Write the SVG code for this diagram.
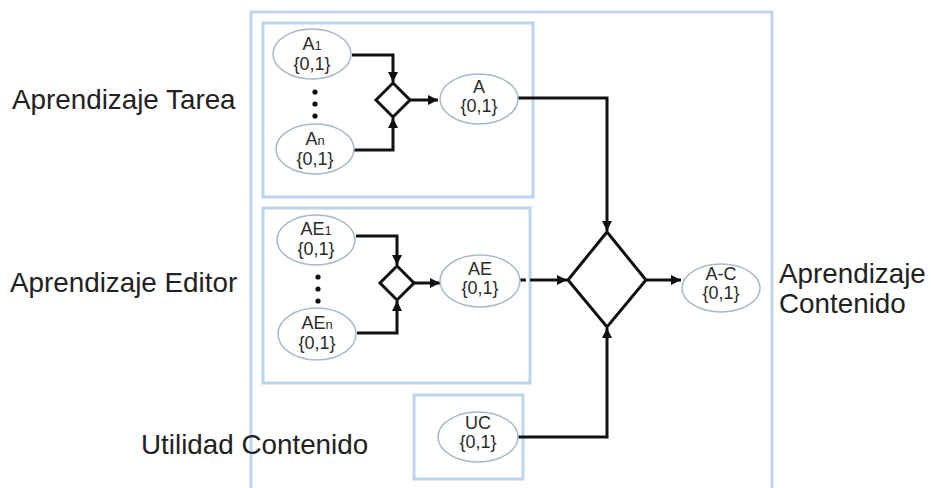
<svg xmlns="http://www.w3.org/2000/svg" width="931" height="488" viewBox="0 0 931 488">
<defs>
<marker id="arr" viewBox="0 0 10 10" refX="10" refY="5" markerWidth="3.4" markerHeight="3.4" orient="auto" markerUnits="strokeWidth">
<path d="M0,0 L10,5 L0,10 z" fill="#111"/>
</marker>
<style>
.box{fill:none;stroke:#bcd5ec;stroke-width:3}
.ell{fill:#fff;stroke:#a9b8c8;stroke-width:1.5}
.et{font-family:"Liberation Sans",Arial,sans-serif;font-size:18px;fill:#2a2a2a;text-anchor:middle}
.sub{font-size:13px}
.lbl{font-family:"Liberation Sans",Arial,sans-serif;font-size:27.8px;fill:#222}
.con{fill:none;stroke:#111;stroke-width:3;marker-end:url(#arr)}
.dia{fill:#fff;stroke:#111;stroke-width:3;stroke-linejoin:miter}
.dot{fill:#111}
</style>
</defs>
<rect width="931" height="488" fill="#fff"/>

<g id="outer-box"><rect class="box" x="251" y="12" width="521" height="490"/></g>
<g id="box-tarea"><rect class="box" x="263" y="23" width="270" height="174"/></g>
<g id="box-editor"><rect class="box" x="263" y="208" width="267" height="175"/></g>
<g id="box-uc"><rect class="box" x="414" y="395" width="109" height="84"/></g>

<g id="labels">
<text class="lbl" x="12" y="109">Aprendizaje Tarea</text>
<text class="lbl" x="10" y="292">Aprendizaje Editor</text>
<text class="lbl" x="141" y="454">Utilidad Contenido</text>
<text class="lbl" x="779" y="283">Aprendizaje</text>
<text class="lbl" x="779" y="313">Contenido</text>
</g>

<g id="connectors">
<path class="con" d="M352,55 H393 V82"/>
<path class="con" d="M354,150 H393 V118"/>
<path class="con" d="M410,100 H438"/>
<path class="con" d="M518,98 H607 V231"/>
<path class="con" d="M356,236 H397 V265"/>
<path class="con" d="M357,333 H397 V301"/>
<path class="con" d="M414,283 H440"/>
<path class="con" d="M520,280 H567" stroke-dasharray="6 4 100"/>
<path class="con" d="M646,280 H681"/>
<path class="con" d="M518,437 H607 V328"/>
</g>

<g id="diamond-tarea"><polygon class="dia" points="393,83 410,100 393,117 376,100"/></g>
<g id="diamond-editor"><polygon class="dia" points="397,266 414,283 397,300 380,283"/></g>
<g id="diamond-main"><polygon class="dia" points="607,232 646,280 607,327 568,280"/></g>

<g id="dots-tarea">
<circle class="dot" cx="315" cy="92" r="2.6"/>
<circle class="dot" cx="315" cy="104" r="2.6"/>
<circle class="dot" cx="315" cy="116" r="2.6"/>
</g>
<g id="dots-editor">
<circle class="dot" cx="318" cy="277" r="2.6"/>
<circle class="dot" cx="318" cy="289" r="2.6"/>
<circle class="dot" cx="318" cy="301" r="2.6"/>
</g>

<g id="node-A1">
<ellipse class="ell" cx="312" cy="54" rx="39" ry="25"/>
<text class="et" x="312" y="50">A<tspan class="sub">1</tspan></text>
<text class="et" x="312" y="70">{0,1}</text>
</g>
<g id="node-An">
<ellipse class="ell" cx="315" cy="149" rx="39" ry="25"/>
<text class="et" x="315" y="145">A<tspan class="sub">n</tspan></text>
<text class="et" x="315" y="165">{0,1}</text>
</g>
<g id="node-A">
<ellipse class="ell" cx="479" cy="99" rx="39" ry="25"/>
<text class="et" x="479" y="93">A</text>
<text class="et" x="479" y="112">{0,1}</text>
</g>
<g id="node-AE1">
<ellipse class="ell" cx="316" cy="240" rx="39" ry="25"/>
<text class="et" x="316" y="235">AE<tspan class="sub">1</tspan></text>
<text class="et" x="316" y="255">{0,1}</text>
</g>
<g id="node-AEn">
<ellipse class="ell" cx="317" cy="334" rx="39" ry="26"/>
<text class="et" x="317" y="329">AE<tspan class="sub">n</tspan></text>
<text class="et" x="317" y="349">{0,1}</text>
</g>
<g id="node-AE">
<ellipse class="ell" cx="480" cy="281" rx="40" ry="26"/>
<text class="et" x="480" y="275">AE</text>
<text class="et" x="480" y="294">{0,1}</text>
</g>
<g id="node-AC">
<ellipse class="ell" cx="721" cy="288" rx="39" ry="24"/>
<text class="et" x="721" y="280">A-C</text>
<text class="et" x="721" y="299">{0,1}</text>
</g>
<g id="node-UC">
<ellipse class="ell" cx="478" cy="437" rx="40" ry="25"/>
<text class="et" x="478" y="429">UC</text>
<text class="et" x="478" y="448">{0,1}</text>
</g>
</svg>
